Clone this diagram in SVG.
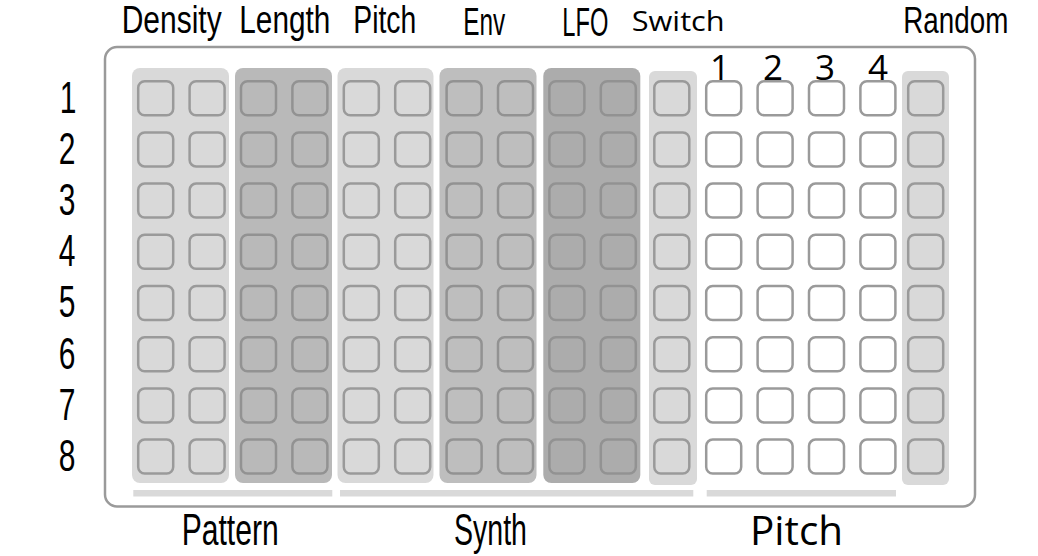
<svg xmlns="http://www.w3.org/2000/svg" width="1038" height="556" viewBox="0 0 1038 556">
<style>
.frame{fill:#fff;stroke:#9a9a9a;stroke-width:2.5}
.gl{fill:#d9d9d9}
.gm{fill:#b9b9b9}
.gm2{fill:#bebebe}
.gd{fill:#acacac}
.bar{fill:#d9d9d9}
.c{fill:none;stroke:#9a9a9a;stroke-width:2.5}
.cd{fill:none;stroke:#929292;stroke-width:2.5}
.cw{fill:#fff;stroke:#9a9a9a;stroke-width:2.5}
.cond{font-family:"Liberation Sans",Arial,sans-serif;fill:#000;font-size:30px}
.sans{font-family:"Open Sans","Noto Sans",sans-serif;fill:#000}
</style>
<defs>
<rect id="cell" width="35" height="34" rx="6.5"/>
<g id="col">
<use href="#cell" y="81.2"/>
<use href="#cell" y="132.4"/>
<use href="#cell" y="183.6"/>
<use href="#cell" y="234.8"/>
<use href="#cell" y="286"/>
<use href="#cell" y="337.2"/>
<use href="#cell" y="388.4"/>
<use href="#cell" y="439.6"/>
</g>
</defs>
<rect class="frame" x="105" y="47" width="870" height="459.5" rx="12"/>

<g id="density">
<rect class="gl" x="132" y="68" width="97" height="415" rx="8"/>
<use href="#col" class="c" x="138.2"/>
<use href="#col" class="c" x="189.6"/>
<text class="cond" transform="translate(121.7,33) scale(1,1.3)" textLength="100" lengthAdjust="spacingAndGlyphs">Density</text>
</g>
<g id="length">
<rect class="gm" x="235" y="68" width="97" height="415" rx="8"/>
<use href="#col" class="cd" x="241"/>
<use href="#col" class="cd" x="292.4"/>
<text class="cond" transform="translate(239.3,33) scale(1,1.3)" textLength="91" lengthAdjust="spacingAndGlyphs">Length</text>
</g>
<g id="pitch-synth">
<rect class="gl" x="337.5" y="68" width="96" height="415" rx="8"/>
<use href="#col" class="c" x="343.8"/>
<use href="#col" class="c" x="395.2"/>
<text class="cond" transform="translate(353.3,33) scale(1,1.3)" textLength="63" lengthAdjust="spacingAndGlyphs">Pitch</text>
</g>
<g id="env">
<rect class="gm2" x="439.5" y="68" width="97" height="415" rx="8"/>
<use href="#col" class="cd" x="446.6"/>
<use href="#col" class="cd" x="498"/>
<text class="cond" transform="translate(463.3,35) scale(1,1.3)" textLength="42" lengthAdjust="spacingAndGlyphs">Env</text>
</g>
<g id="lfo">
<rect class="gd" x="543.3" y="68" width="97" height="415" rx="8"/>
<use href="#col" class="cd" x="549.4"/>
<use href="#col" class="cd" x="600.8"/>
<text class="cond" transform="translate(562.3,36) scale(1,1.36)" textLength="46" lengthAdjust="spacingAndGlyphs">LFO</text>
</g>
<g id="switch">
<rect class="gl" x="649" y="71" width="48" height="414" rx="6"/>
<use href="#col" class="c" x="654.3"/>
<text class="sans" x="631.7" y="30.5" font-size="27" textLength="93" lengthAdjust="spacingAndGlyphs">Switch</text>
</g>
<g id="pitch-steps">
<use href="#col" class="cw" x="706.2"/>
<use href="#col" class="cw" x="757.6"/>
<use href="#col" class="cw" x="809"/>
<use href="#col" class="cw" x="860.4"/>
<text class="sans" x="720" y="80" font-size="35" text-anchor="middle">1</text>
<text class="sans" x="773" y="80" font-size="35" text-anchor="middle">2</text>
<text class="sans" x="825" y="80" font-size="35" text-anchor="middle">3</text>
<text class="sans" x="878" y="80" font-size="35" text-anchor="middle">4</text>
</g>
<g id="random">
<rect class="gl" x="902" y="71" width="47" height="414" rx="6"/>
<use href="#col" class="c" x="908.2"/>
<text class="cond" transform="translate(903.3,33) scale(1,1.22)" textLength="105" lengthAdjust="spacingAndGlyphs">Random</text>
</g>

<g id="rows">
<text class="cond" transform="translate(68,113) scale(1,1.49)" text-anchor="middle">1</text>
<text class="cond" transform="translate(67,164.1) scale(1,1.49)" text-anchor="middle">2</text>
<text class="cond" transform="translate(67,215.2) scale(1,1.49)" text-anchor="middle">3</text>
<text class="cond" transform="translate(67,266.3) scale(1,1.49)" text-anchor="middle">4</text>
<text class="cond" transform="translate(67,317.4) scale(1,1.49)" text-anchor="middle">5</text>
<text class="cond" transform="translate(67,368.5) scale(1,1.49)" text-anchor="middle">6</text>
<text class="cond" transform="translate(67,419.6) scale(1,1.49)" text-anchor="middle">7</text>
<text class="cond" transform="translate(67,470.7) scale(1,1.49)" text-anchor="middle">8</text>
</g>

<g id="pattern-section">
<rect class="bar" x="133.3" y="490" width="199" height="6.5"/>
<text class="cond" transform="translate(181.7,545) scale(1,1.49)" textLength="97" lengthAdjust="spacingAndGlyphs">Pattern</text>
</g>
<g id="synth-section">
<rect class="bar" x="340" y="490" width="353.3" height="6.5"/>
<text class="cond" transform="translate(454,545) scale(1,1.49)" textLength="73" lengthAdjust="spacingAndGlyphs">Synth</text>
</g>
<g id="pitch-section">
<rect class="bar" x="706.7" y="490" width="189.3" height="6.5"/>
<text class="sans" x="750" y="545" font-size="41" textLength="93" lengthAdjust="spacingAndGlyphs">Pitch</text>
</g>
<g id="connectors"/>
</svg>
